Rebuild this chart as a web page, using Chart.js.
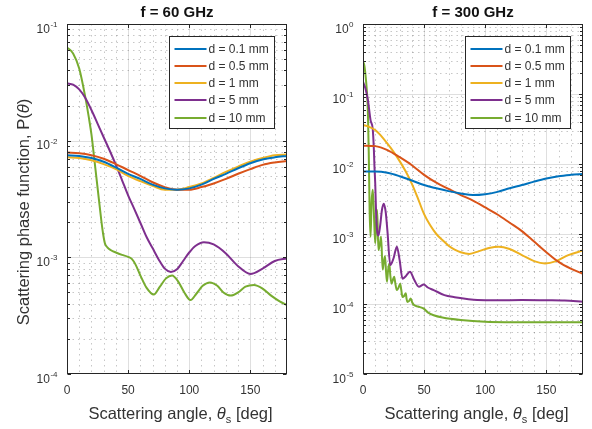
<!DOCTYPE html>
<html lang="en">
<head>
<meta charset="UTF-8" />
<title>Scattering phase function</title>
<script src="https://cdn.jsdelivr.net/npm/chart.js@4"></script>
<style>
  body { margin: 0; background: #fff; }
  .panel { position: absolute; top: 0; width: 296px; height: 429px; }
</style>
</head>
<body>
<div class="panel" style="left:0"><canvas id="c60" width="296" height="429"></canvas></div>
<div class="panel" style="left:296px"><canvas id="c300" width="296" height="429"></canvas></div>

<script>
const labels = ["d = 0.1 mm", "d = 0.5 mm", "d = 1 mm", "d = 5 mm", "d = 10 mm"];
const colors = ["#0072BD", "#D95319", "#EDB120", "#7E2F8E", "#77AC30"];

// ---- f = 60 GHz ----
const ang60 = [0, 10, 20, 30, 40, 50, 60, 70, 80, 90, 100, 110, 120, 130, 140, 150, 160, 170, 180];
const p60_01 = [0.0075, 0.0074, 0.0071, 0.0066, 0.0059, 0.0052, 0.0047, 0.0042, 0.0039, 0.0038, 0.0039, 0.0042, 0.0047, 0.0052, 0.0058, 0.0064, 0.0069, 0.0072, 0.0074];
const p60_05 = [0.0079, 0.0078, 0.0075, 0.0070, 0.0063, 0.0056, 0.0050, 0.0044, 0.0040, 0.0038, 0.0038, 0.0040, 0.0043, 0.0047, 0.0052, 0.0057, 0.0062, 0.0065, 0.0067];
const p60_1 = [0.0072, 0.0071, 0.0068, 0.0063, 0.0057, 0.0050, 0.0045, 0.0041, 0.0038, 0.0038, 0.0040, 0.0043, 0.0048, 0.0054, 0.0060, 0.0066, 0.0071, 0.0075, 0.0076];
const ang60_5 = [0, 5, 10, 15, 20, 25, 30, 35, 40, 45, 50, 55, 60, 65, 70, 75, 80, 85, 90, 95, 100, 105, 112, 120, 130, 140, 150, 160, 170, 180];
const p60_5 = [0.031, 0.0302, 0.0275, 0.0232, 0.0183, 0.014, 0.0107, 0.0082, 0.0062, 0.0046, 0.0034, 0.0026, 0.00198, 0.0015, 0.0012, 0.00096, 0.0008, 0.00075, 0.00079, 0.00093, 0.0011, 0.00125, 0.00135, 0.00129, 0.00108, 0.00084, 0.00072, 0.0008, 0.00093, 0.00098];
const ang60_10 = [0, 5, 10, 15, 18, 20, 22, 24, 26, 28, 29.5, 31, 33, 36, 40, 45, 50, 53, 56, 60, 65, 71, 76, 81, 86, 91, 96, 101, 106, 111, 117, 123, 128, 134, 140, 146, 153, 160, 167, 174, 180];
const p60_10 = [0.063, 0.056, 0.0415, 0.0235, 0.0155, 0.0113, 0.0075, 0.0049, 0.0032, 0.0021, 0.0016, 0.00132, 0.00122, 0.00115, 0.0011, 0.00105, 0.00101, 0.00097, 0.00087, 0.0007, 0.00055, 0.00048, 0.00056, 0.00066, 0.0007, 0.00062, 0.0005, 0.00043, 0.00049, 0.00057, 0.00061, 0.00057, 0.0005, 0.00047, 0.0005, 0.00056, 0.00058, 0.00054, 0.00047, 0.00042, 0.00039];

// ---- f = 300 GHz ----
const ang300 = [0, 10, 20, 30, 40, 50, 60, 70, 80, 90, 100, 110, 120, 130, 140, 150, 160, 170, 180];
const p300_01 = [0.0078, 0.0078, 0.0075, 0.0067, 0.0058, 0.005, 0.0045, 0.0041, 0.0038, 0.0036, 0.0037, 0.004, 0.0045, 0.005, 0.0056, 0.0062, 0.0067, 0.007, 0.0072];
const p300_05 = [0.0183, 0.018, 0.0158, 0.0125, 0.0096, 0.0070, 0.0054, 0.0044, 0.0036, 0.003, 0.0024, 0.0019, 0.00145, 0.0011, 0.00078, 0.00055, 0.0004, 0.00032, 0.00027];
const ang300_1 = [0, 5, 10, 15, 20, 25, 30, 35, 40, 45, 50, 55, 60, 65, 70, 75, 80, 87, 95, 103, 111, 120, 130, 140, 149, 158, 168, 180];
const p300_1 = [0.036, 0.034, 0.0306, 0.025, 0.0195, 0.0149, 0.011, 0.0078, 0.0052, 0.0032, 0.00192, 0.00133, 0.001, 0.00082, 0.00068, 0.0006, 0.00055, 0.00052, 0.00057, 0.00063, 0.00066, 0.00061, 0.0005, 0.00041, 0.00038, 0.00041, 0.0005, 0.00058];
const ang300_5 = [0, 2, 4, 6.2, 8, 8.9, 9.4, 10, 10.8, 11.6, 12.6, 14, 15.5, 17, 18.5, 20, 22.3, 25, 27.7, 30, 32.3, 35, 38.4, 42, 45.7, 49.7, 53, 57.8, 66.6, 75, 85, 93.5, 110, 130, 150, 165, 180];
const p300_5 = [0.15, 0.12, 0.082, 0.042, 0.031, 0.016, 0.009, 0.0053, 0.0018, 0.0011, 0.00095, 0.0013, 0.0022, 0.0027, 0.0021, 0.0011, 0.00036, 0.00045, 0.00066, 0.00042, 0.00023, 0.00025, 0.00029, 0.00022, 0.000177, 0.00019, 0.000172, 0.000158, 0.000134, 0.000125, 0.000118, 0.000114, 0.000113, 0.000114, 0.000113, 0.000112, 0.000108];
const ang300_10 = [0, 1, 2, 3, 4, 4.7, 5.4, 6.2, 7, 8, 9, 10, 10.8, 11.6, 12.6, 13.7, 14.8, 16.1, 17, 18, 18.8, 19.6, 20.5, 21.5, 22.4, 23.4, 24.4, 25.5, 26.6, 27.7, 29, 30.4, 31.3, 32.3, 33.6, 35, 35.6, 36.3, 37.6, 39, 40.3, 41.7, 45, 49.7, 53, 57.8, 65, 80, 100, 140, 180];
const p300_10 = [0.29, 0.26, 0.19, 0.12, 0.055, 0.015, 0.0022, 0.00091, 0.0028, 0.0043, 0.0018, 0.00074, 0.0014, 0.0022, 0.00059, 0.0007, 0.00091, 0.00031, 0.0004, 0.00048, 0.0003, 0.000208, 0.0003, 0.00038, 0.00025, 0.000195, 0.00022, 0.000245, 0.00019, 0.000158, 0.00017, 0.000195, 0.00016, 0.000126, 0.00013, 0.000142, 0.00012, 0.000107, 0.00011, 0.00012, 0.000105, 0.0000967, 0.000092, 0.000086, 0.000076, 0.000069, 0.000064, 0.000059, 0.000056, 0.000055, 0.000055];

const FONT = '"Liberation Sans", Arial, Helvetica, sans-serif';
const TXT = "#333333";
const AX = "#262626";

function pairs(xs, ys) {
  return xs.map((x, i) => ({ x: x, y: ys[i] }));
}

// draws a run of text pieces (font / vertical shift each) centred on x
function drawRich(ctx, parts, cx, y) {
  let total = 0;
  parts.forEach(p => { ctx.font = p.font; p.w = ctx.measureText(p.t).width; total += p.w; });
  let x = cx - total / 2;
  ctx.textAlign = "left";
  ctx.textBaseline = "alphabetic";
  parts.forEach(p => { ctx.font = p.font; ctx.fillText(p.t, x, y + (p.dy || 0)); x += p.w; });
}

// grid, box, ticks, y tick labels, axis labels, legend and title (MATLAB look)
const matlabAxes = {
  id: "matlabAxes",
  beforeDatasetsDraw(chart) {
    const { ctx, chartArea: a, scales: { x, y } } = chart;
    const lo = Math.round(Math.log10(y.min)), hi = Math.round(Math.log10(y.max));
    ctx.save();
    ctx.lineWidth = 1;
    // minor grid, dotted
    ctx.strokeStyle = "rgba(38,38,38,0.26)";
    ctx.setLineDash([1.5, 4]);
    ctx.beginPath();
    for (let v = 10; v < 180; v += 10) {
      if (v % 50 === 0) continue;
      const px = Math.round(x.getPixelForValue(v)) + 0.5;
      ctx.moveTo(px, a.top); ctx.lineTo(px, a.bottom);
    }
    for (let e = lo; e < hi; e++) {
      for (let k = 2; k <= 9; k++) {
        const py = Math.round(y.getPixelForValue(k * Math.pow(10, e))) + 0.5;
        ctx.moveTo(a.left, py); ctx.lineTo(a.right, py);
      }
    }
    ctx.stroke();
    // major grid
    ctx.setLineDash([]);
    ctx.strokeStyle = "rgba(38,38,38,0.15)";
    ctx.beginPath();
    [50, 100, 150].forEach(v => {
      const px = Math.round(x.getPixelForValue(v)) + 0.5;
      ctx.moveTo(px, a.top); ctx.lineTo(px, a.bottom);
    });
    for (let e = lo + 1; e < hi; e++) {
      const py = Math.round(y.getPixelForValue(Math.pow(10, e))) + 0.5;
      ctx.moveTo(a.left, py); ctx.lineTo(a.right, py);
    }
    ctx.stroke();
    ctx.restore();
  },
  afterDatasetsDraw(chart) {
    const { ctx, chartArea: a, scales: { x, y } } = chart;
    const opts = chart.options.plugins.matlabText;
    const lo = Math.round(Math.log10(y.min)), hi = Math.round(Math.log10(y.max));
    ctx.save();
    ctx.strokeStyle = AX;
    ctx.lineWidth = 1;
    const L = Math.round(a.left) + 0.5, R = Math.round(a.right) - 0.5;
    const T = Math.round(a.top) + 0.5, B = Math.round(a.bottom) - 0.5;
    ctx.strokeRect(L, T, R - L, B - T);
    // inward tick marks
    ctx.beginPath();
    [0, 50, 100, 150].forEach(v => {
      const px = Math.round(x.getPixelForValue(v)) + 0.5;
      ctx.moveTo(px, B); ctx.lineTo(px, B - 3.5);
      ctx.moveTo(px, T); ctx.lineTo(px, T + 3.5);
    });
    for (let e = lo; e < hi; e++) {
      for (let k = 1; k <= 9; k++) {
        const py = Math.round(y.getPixelForValue(k * Math.pow(10, e))) + 0.5;
        const len = k === 1 ? 3.5 : 2.5;
        ctx.moveTo(L, py); ctx.lineTo(L + len, py);
        ctx.moveTo(R, py); ctx.lineTo(R - len, py);
      }
    }
    ctx.stroke();

    // y tick labels 10^n
    ctx.fillStyle = TXT;
    ctx.textBaseline = "alphabetic";
    ctx.textAlign = "left";
    for (let e = lo; e <= hi; e++) {
      const py = y.getPixelForValue(Math.pow(10, e));
      const ex = String(e);
      ctx.font = "8px " + FONT;
      const we = ctx.measureText(ex).width;
      ctx.font = "12px " + FONT;
      const wb = ctx.measureText("10").width;
      const right = a.left - 9.5;
      ctx.fillText("10", right - we - wb - 0.5, py + 8.5);
      ctx.font = "8px " + FONT;
      ctx.fillText(ex, right - we, py + 3);
    }

    // x axis label with italic theta and subscript s
    const f16 = "16.5px " + FONT, f16i = "italic 16.5px " + FONT, f11 = "11px " + FONT;
    drawRich(ctx, [
      { t: "Scattering angle, ", font: f16 },
      { t: "θ", font: f16i },
      { t: "s", font: f11, dy: 4 },
      { t: " [deg]", font: f16 }
    ], (a.left + a.right) / 2 + 3.5, 418.5);

    // y axis label
    if (opts.yLabel) {
      ctx.save();
      ctx.translate(29, 212);
      ctx.rotate(-Math.PI / 2);
      drawRich(ctx, [
        { t: opts.yLabel + "P(", font: f16 },
        { t: "θ", font: f16i },
        { t: ")", font: f16 }
      ], 0, 0);
      ctx.restore();
    }

    // legend
    const sets = chart.data.datasets;
    ctx.font = "12px " + FONT;
    const tw = Math.max(...sets.map(d => ctx.measureText(d.label).width));
    const bw = Math.round(5 + 32 + 2 + tw + 6);
    const rowH = 17.3;
    const bh = Math.round(sets.length * rowH + 5);
    const bx = Math.round(a.right - 13.5 - bw) + 0.5;
    const by = Math.round(a.top + 12) + 0.5;
    ctx.fillStyle = "#ffffff";
    ctx.fillRect(bx, by, bw, bh);
    ctx.strokeStyle = AX;
    ctx.lineWidth = 1;
    ctx.strokeRect(bx, by, bw, bh);
    sets.forEach((d, i) => {
      const cy = Math.round(by + 12 + i * rowH);
      ctx.strokeStyle = d.borderColor;
      ctx.lineWidth = 2;
      ctx.beginPath();
      ctx.moveTo(bx + 5, cy); ctx.lineTo(bx + 37, cy);
      ctx.stroke();
      ctx.fillStyle = TXT;
      ctx.textAlign = "left";
      ctx.textBaseline = "middle";
      ctx.fillText(d.label, bx + 39, cy + 0.5);
    });

    // title centred on the axes
    ctx.font = "bold 15px " + FONT;
    ctx.fillStyle = "#111111";
    ctx.textAlign = "center";
    ctx.textBaseline = "middle";
    ctx.fillText(opts.title, (a.left + a.right) / 2, 12.5);
    ctx.restore();
  }
};

function makeChart(id, title, yMin, yMax, series, yLabel, padRight) {
  const datasets = series.map((s, i) => ({
    label: labels[i],
    data: pairs(s[0], s[1]),
    borderColor: colors[i],
    backgroundColor: colors[i],
    borderWidth: 2,
    pointRadius: 0,
    cubicInterpolationMode: "monotone",
    fill: false
  }));
  return new Chart(document.getElementById(id), {
    type: "line",
    data: { datasets: datasets },
    plugins: [matlabAxes],
    options: {
      responsive: false,
      animation: false,
      layout: { padding: { top: 24, right: padRight, left: 0, bottom: 0 } },
      plugins: {
        legend: { display: false },
        tooltip: { enabled: false },
        matlabText: { title: title, yLabel: yLabel }
      },
      scales: {
        x: {
          type: "linear",
          min: 0,
          max: 180,
          grid: { display: false, drawTicks: false },
          border: { display: false },
          ticks: {
            stepSize: 50,
            padding: 9,
            maxRotation: 0,
            color: TXT,
            font: { size: 12, family: FONT },
            callback: v => (v % 50 === 0 && v < 180 ? String(v) : "")
          },
          afterFit: s => { s.height = 55; }
        },
        y: {
          type: "logarithmic",
          min: yMin,
          max: yMax,
          grid: { display: false, drawTicks: false },
          border: { display: false },
          ticks: { display: false },
          afterFit: s => { s.width = 67; }
        }
      }
    }
  });
}

makeChart("c60", "f = 60 GHz", 1e-4, 1e-1, [
  [ang60, p60_01], [ang60, p60_05], [ang60, p60_1], [ang60_5, p60_5], [ang60_10, p60_10]
], "Scattering phase function, ", 4);

makeChart("c300", "f = 300 GHz", 1e-5, 1, [
  [ang300, p300_01], [ang300, p300_05], [ang300_1, p300_1], [ang300_5, p300_5], [ang300_10, p300_10]
], "", 5);
</script>
</body>
</html>
